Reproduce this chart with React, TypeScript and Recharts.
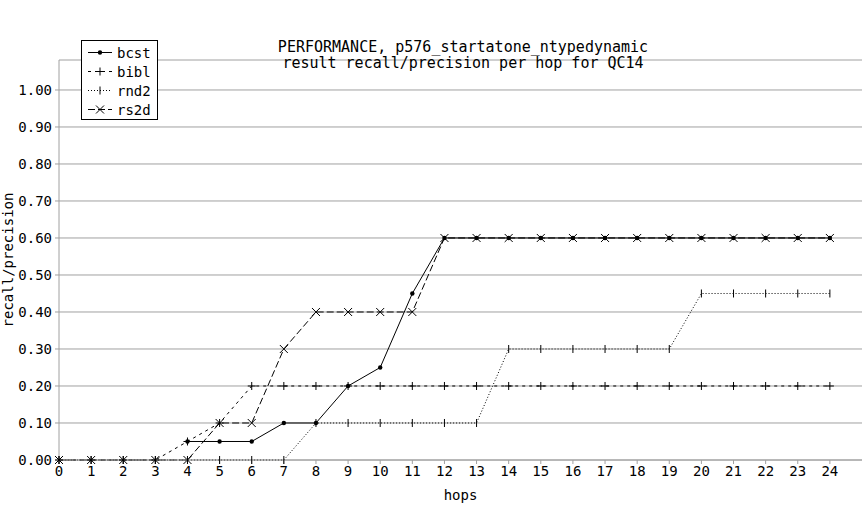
import React from "react";
import { LineChart, Line, XAxis, YAxis, CartesianGrid } from "recharts";

const hops = [0, 1, 2, 3, 4, 5, 6, 7, 8, 9, 10, 11, 12, 13, 14, 15, 16, 17, 18, 19, 20, 21, 22, 23, 24];
const bcst = [null, null, null, null, 0.05, 0.05, 0.05, 0.1, 0.1, 0.2, 0.25, 0.45, 0.6, 0.6, 0.6, 0.6, 0.6, 0.6, 0.6, 0.6, 0.6, 0.6, 0.6, 0.6, 0.6];
const bibl = [0, 0, 0, 0, 0.05, 0.1, 0.2, 0.2, 0.2, 0.2, 0.2, 0.2, 0.2, 0.2, 0.2, 0.2, 0.2, 0.2, 0.2, 0.2, 0.2, 0.2, 0.2, 0.2, 0.2];
const rnd2 = [0, 0, 0, 0, 0, 0, 0, 0, 0.1, 0.1, 0.1, 0.1, 0.1, 0.1, 0.3, 0.3, 0.3, 0.3, 0.3, 0.3, 0.45, 0.45, 0.45, 0.45, 0.45];
const rs2d = [0, 0, 0, 0, 0, 0.1, 0.1, 0.3, 0.4, 0.4, 0.4, 0.4, 0.6, 0.6, 0.6, 0.6, 0.6, 0.6, 0.6, 0.6, 0.6, 0.6, 0.6, 0.6, 0.6];
const yTicks = [0, 0.1, 0.2, 0.3, 0.4, 0.5, 0.6, 0.7, 0.8, 0.9, 1.0];

const data = hops.map((h, i) => ({ hop: h, bcst: bcst[i], bibl: bibl[i], rnd2: rnd2[i], rs2d: rs2d[i] }));

const FONT = "'DejaVu Sans Mono', monospace";
const GRID = "#a0a0a0";

const DotMark = (p: any) => (p.cy == null ? null : <circle key={p.key} cx={p.cx} cy={p.cy} r={2.2} fill="#000" />);
const PlusMark = (p: any) =>
  p.cy == null ? null : (
    <path key={p.key} d={`M${p.cx - 4},${p.cy}h8M${p.cx},${p.cy - 4}v8`} stroke="#000" strokeWidth={1} fill="none" />
  );
const TickMark = (p: any) =>
  p.cy == null ? null : <path key={p.key} d={`M${p.cx},${p.cy - 4}v8`} stroke="#000" strokeWidth={1} fill="none" />;
const XMark = (p: any) =>
  p.cy == null ? null : (
    <path
      key={p.key}
      d={`M${p.cx - 4},${p.cy - 4}l8,8M${p.cx - 4},${p.cy + 4}l8,-8`}
      stroke="#000"
      strokeWidth={1}
      fill="none"
    />
  );

const legendItems = [
  { name: "bcst", dash: undefined, mark: "dot" },
  { name: "bibl", dash: "3 4", mark: "plus" },
  { name: "rnd2", dash: "1 2", mark: "tick" },
  { name: "rs2d", dash: "7 3", mark: "x" },
];

export default function App() {
  return (
    <div style={{ position: "absolute", left: 0, top: 0, width: 862, height: 520, background: "#fff", fontFamily: FONT }}>
      <LineChart width={862} height={520} data={data} margin={{ top: 60, right: 0, bottom: 0, left: 0 }}>
        <CartesianGrid vertical={false} stroke={GRID} strokeDasharray="" />
        <XAxis
          dataKey="hop"
          type="number"
          domain={[0, 25]}
          ticks={hops}
          interval={0}
          height={60}
          tickSize={4}
          tickMargin={2}
          axisLine={{ stroke: GRID }}
          tickLine={{ stroke: GRID }}
          tick={{ fill: "#000", fontSize: 14, fontFamily: FONT }}
          label={{ value: "hops", position: "insideTop", offset: 30, fill: "#000", fontSize: 14, fontFamily: FONT }}
        />
        <YAxis
          type="number"
          domain={[0, 1.081]}
          ticks={yTicks}
          width={59}
          tickSize={4}
          tickMargin={3}
          tickFormatter={(v: number) => v.toFixed(2)}
          axisLine={{ stroke: GRID }}
          tickLine={{ stroke: GRID }}
          tick={{ fill: "#000", fontSize: 14, fontFamily: FONT }}
          label={{
            value: "recall/precision",
            angle: -90,
            position: "insideLeft",
            offset: 8,
            fill: "#000",
            fontSize: 14,
            fontFamily: FONT,
            style: { textAnchor: "middle" },
          }}
        />
        <Line dataKey="rnd2" stroke="#000" strokeWidth={1} strokeDasharray="1 2" dot={TickMark} activeDot={false} isAnimationActive={false} type="linear" />
        <Line dataKey="bibl" stroke="#000" strokeWidth={1} strokeDasharray="3 4" dot={PlusMark} activeDot={false} isAnimationActive={false} type="linear" />
        <Line dataKey="rs2d" stroke="#000" strokeWidth={1} strokeDasharray="7 3" dot={XMark} activeDot={false} isAnimationActive={false} type="linear" />
        <Line dataKey="bcst" stroke="#000" strokeWidth={1} dot={DotMark} activeDot={false} isAnimationActive={false} type="linear" />
      </LineChart>
      <div
        style={{
          position: "absolute",
          left: 0,
          width: 926,
          top: 39,
          textAlign: "center",
          fontSize: 15,
          lineHeight: "16px",
          color: "#000",
          whiteSpace: "pre",
        }}
      >
        {"PERFORMANCE, p576_startatone_ntypedynamic\nresult recall/precision per hop for QC14"}
      </div>
      <div
        style={{
          position: "absolute",
          left: 81,
          top: 40,
          width: 75,
          height: 78,
          border: "1px solid #000",
          background: "#fff",
        }}
      >
        {legendItems.map((it, i) => (
          <div key={it.name} style={{ position: "absolute", left: 0, top: 2 + i * 19, height: 19, display: "flex", alignItems: "center" }}>
            <svg width={30} height={19} style={{ display: "block" }}>
              <line x1={6} y1={9.5} x2={30} y2={9.5} stroke="#000" strokeDasharray={it.dash} />
              {it.mark === "dot" && <circle cx={18} cy={9.5} r={2.2} fill="#000" />}
              {it.mark === "plus" && <path d="M14,9.5h8M18,5.5v8" stroke="#000" />}
              {it.mark === "tick" && <path d="M18,5.5v8" stroke="#000" />}
              {it.mark === "x" && <path d="M14,5.5l8,8M14,13.5l8,-8" stroke="#000" />}
            </svg>
            <span style={{ fontSize: 14, marginLeft: 5, color: "#000" }}>{it.name}</span>
          </div>
        ))}
      </div>
    </div>
  );
}
